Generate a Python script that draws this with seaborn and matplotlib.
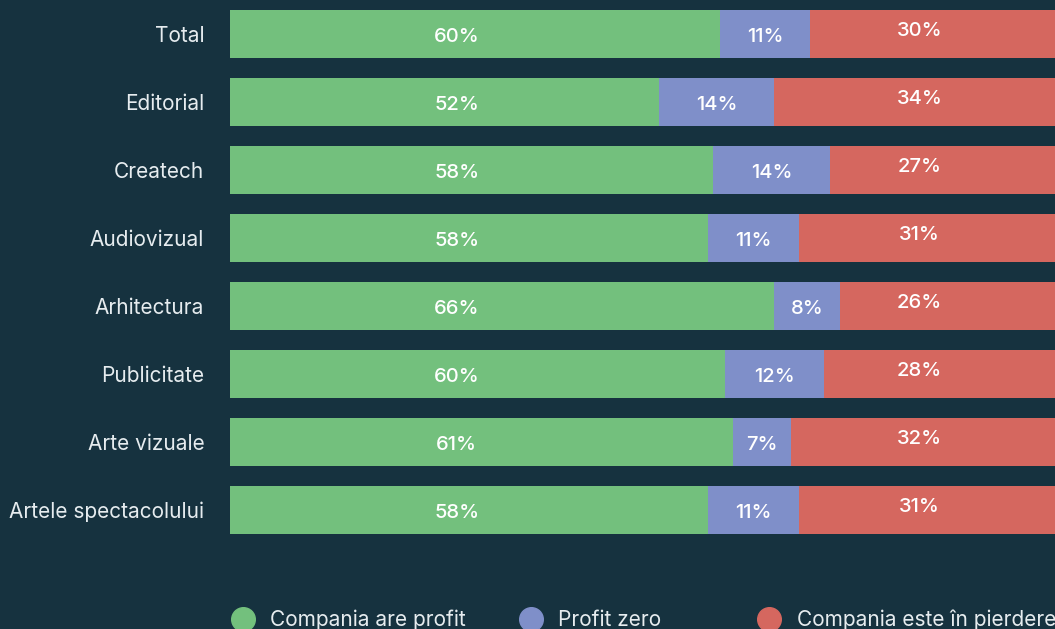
import numpy as np
import pandas as pd
import seaborn as sns
import matplotlib.pyplot as plt
from matplotlib.lines import Line2D

categories = ['Total', 'Editorial', 'Createch', 'Audiovizual', 'Arhitectura',
              'Publicitate', 'Arte vizuale', 'Artele spectacolului']
profit = [60, 52, 58, 58, 66, 60, 61, 58]
zero = [11, 14, 14, 11, 8, 12, 7, 11]
loss = [30, 34, 27, 31, 26, 28, 32, 31]

series_names = ['Compania are profit', 'Profit zero', 'Compania este în pierdere']
colors = ['#73c07d', '#7f8fc9', '#d5675f']
bg = '#16323f'

df = pd.DataFrame({'cat': categories, 'profit': profit, 'zero': zero, 'loss': loss})
tot = df[['profit', 'zero', 'loss']].sum(axis=1)
# share of each row, so every bar fills the width
df['p'] = df['profit'] / tot * 100
df['z'] = df['zero'] / tot * 100
df['l'] = df['loss'] / tot * 100
df['pz'] = df['p'] + df['z']
df['all'] = df['pz'] + df['l']

sns.set_theme(style='white')
plt.rcParams['font.family'] = ['Inter', 'DejaVu Sans']

fig = plt.figure(figsize=(10.55, 6.29), dpi=100, facecolor=bg)
ax = fig.add_axes([0.218, 0.135, 0.782, 0.865])
ax.set_facecolor(bg)

for col, c in zip(['all', 'pz', 'p'], [colors[2], colors[1], colors[0]]):
    sns.barplot(data=df, y='cat', x=col, color=c, width=0.7, saturation=1,
                linewidth=0, edgecolor='none', ax=ax)

for i, r in df.iterrows():
    ax.text(27.5, i + 0.05, f"{r['profit']}%", ha='center', va='center',
            color='white', fontsize=14.5, fontweight='medium')
    ax.text(r['p'] + r['z'] / 2, i + 0.05, f"{r['zero']}%", ha='center', va='center',
            color='white', fontsize=14.5, fontweight='medium')
    ax.text(83.6, i - 0.05, f"{r['loss']}%", ha='center', va='center',
            color='white', fontsize=14.5, fontweight='medium')

ax.set_xlim(0, 100)
ax.set_ylim(len(categories) - 0.5, -0.5)
ax.set_xlabel('')
ax.set_ylabel('')
ax.set_xticks([])
ax.tick_params(axis='y', length=0, pad=18.5, labelsize=15, labelcolor='#e6ecef')
for s in ax.spines.values():
    s.set_visible(False)

# legend along the bottom edge
leg_x = [0.230, 0.503, 0.729]
for x, name, c in zip(leg_x, series_names, colors):
    fig.add_artist(Line2D([x], [0.016], marker='o', markersize=17, color=c,
                          linestyle='none', transform=fig.transFigure))
    fig.text(x + 0.026, 0.014, name, color='#e6ecef', fontsize=15,
             ha='left', va='center')

fig.savefig('out.png', dpi=100, facecolor=bg)
